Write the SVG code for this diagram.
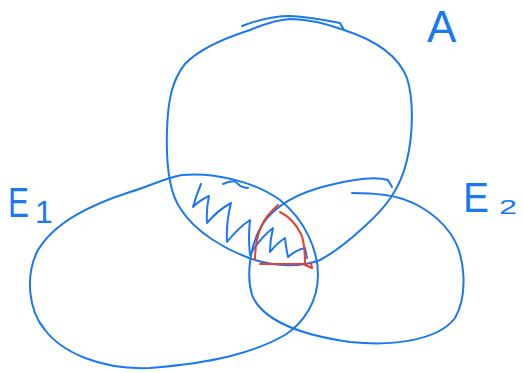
<svg xmlns="http://www.w3.org/2000/svg" width="523" height="373" viewBox="0 0 523 373">
<style>
.ink{fill:none;stroke:#1a78f2;stroke-width:2;stroke-linecap:round;stroke-linejoin:round}
.red{fill:none;stroke:#e8402c;stroke-width:2;stroke-linecap:round;stroke-linejoin:round}
.lbl{fill:#1a78f2;font-family:"Liberation Sans",Arial,sans-serif}
</style>
<rect width="523" height="373" fill="#ffffff"/>
<g id="set-A">
<path class="ink" d="M242,26 C258,20 275,16 290,16 C310,17 330,21 340,23 L344,30"/>
<path class="ink" d="M344,30 C375,40 398,55 407,78 C414,100 413,135 407,160 C400,190 385,208 365,226 C350,240 335,252 320,260 C300,268 275,266 255,260 C225,250 195,232 180,208 C168,190 166,160 167,130 C168,100 172,80 185,64 C200,48 225,38 250,30 C262,25 275,20 290,19 C310,19 330,25 344,30"/>
<text class="lbl" x="427" y="42" font-size="44">A</text>
</g>
<g id="set-E1">
<path class="ink" d="M182,175 C215,172 255,182 280,200 C305,220 318,250 318,275 C318,300 305,322 285,335 C255,352 215,363 150,368 C100,370 62,352 45,330 C28,310 25,275 38,250 C55,222 90,205 130,192 C150,186 165,178 182,175 Z"/>
<text class="lbl" x="8" y="217" font-size="42"><tspan textLength="21" lengthAdjust="spacingAndGlyphs">E</tspan><tspan x="35" y="223" font-size="32">1</tspan></text>
</g>
<g id="set-E2">
<path class="ink" d="M392,187 L388,180 C375,176 350,180 330,185 C300,192 275,205 262,225 C250,245 246,275 252,295 C262,320 300,335 350,342 C400,347 440,338 455,318 C468,295 466,255 450,233 C435,212 410,198 385,195 C370,193 360,193 352,193"/>
<text class="lbl" x="463" y="212" font-size="42"><tspan textLength="26" lengthAdjust="spacingAndGlyphs">E</tspan><tspan x="499" y="214" font-size="20" textLength="18" lengthAdjust="spacingAndGlyphs">2</tspan></text>
</g>
<g id="shading">
<path class="ink" d="M223,184 C228,182 233,180 236,182 C239,184 238,187 248,188"/>
<path class="ink" d="M201,184 Q196,196 193,207 Q200,200 209,196 Q206,210 207,223 Q218,210 231,203 Q226,222 227,242 Q238,228 250,220 Q248,238 250,255 Q260,238 273,228 Q270,240 270,252 Q277,243 285,238 Q286,248 288,257 Q296,250 305,248 L307,258"/>
<path class="red" d="M278,205 C270,212 265,218 262,225 C257,235 255,245 255,260"/>
<path class="red" d="M280,212 C288,216 296,224 301,234 C305,243 305,255 305,265 L312,268 L311,263"/>
<path class="red" d="M260,264 L306,264"/>
</g>
</svg>
